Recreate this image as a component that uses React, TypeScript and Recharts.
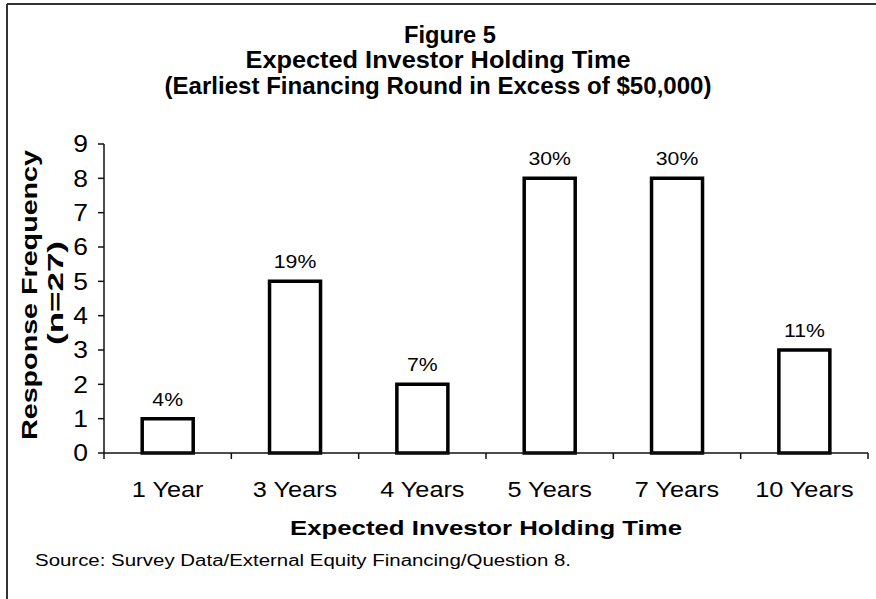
import React from "react";
import { BarChart, Bar, XAxis, YAxis, LabelList } from "recharts";

const categories = ["1 Year", "3 Years", "4 Years", "5 Years", "7 Years", "10 Years"];
const responses = [1, 5, 2, 8, 8, 3];
const shares = ["4%", "19%", "7%", "30%", "30%", "11%"];
const yTicks = [0, 1, 2, 3, 4, 5, 6, 7, 8, 9];

const data = categories.map((category, i) => ({
  category,
  responses: responses[i],
  share: shares[i],
}));

const W = 876;
const H = 599;
const Y_AXIS_W = 60;
const X_AXIS_H = 30;
const plotLeft = 104;
const axisY = 453;
const margin = { top: 144, right: 8, bottom: H - axisY - X_AXIS_H, left: plotLeft - Y_AXIS_W };
const plotW = W - plotLeft - margin.right;
const band = plotW / categories.length;
const font = '"Liberation Sans", Arial, Helvetica, sans-serif';
const SX = 1.15;

function XTick(props: any) {
  const { x, payload, index } = props;
  return (
    <g>
      <line x1={x - band / 2} x2={x - band / 2} y1={axisY} y2={axisY + 6} stroke="#111" strokeWidth={1.5} />
      {index === categories.length - 1 && (
        <line x1={x + band / 2} x2={x + band / 2} y1={axisY} y2={axisY + 6} stroke="#111" strokeWidth={1.5} />
      )}
      <text
        transform={`translate(${x},${axisY + 44}) scale(${SX},1)`}
        textAnchor="middle"
        fontSize={22}
        fontFamily={font}
        fill="#000"
      >
        {payload.value}
      </text>
    </g>
  );
}

function YTick(props: any) {
  const { x, y, payload } = props;
  return (
    <text
      transform={`translate(${x},${y}) scale(${SX},1)`}
      textAnchor="end"
      dy="0.36em"
      fontSize={23}
      fontFamily={font}
      fill="#000"
    >
      {payload.value}
    </text>
  );
}

function ShareLabel(props: any) {
  const { x, y, width, value } = props;
  return (
    <text
      transform={`translate(${x + width / 2},${y - 13}) scale(1.18,1)`}
      textAnchor="middle"
      fontSize={18}
      fontFamily={font}
      fill="#000"
    >
      {value}
    </text>
  );
}

export default function App() {
  return (
    <div style={{ position: "absolute", left: 0, top: 0, width: W, height: H, background: "#fff", overflow: "hidden" }}>
      <BarChart width={W} height={H} data={data} margin={margin} barCategoryGap="30%">
        <XAxis
          dataKey="category"
          height={X_AXIS_H}
          interval={0}
          tickLine={false}
          axisLine={{ stroke: "#111", strokeWidth: 1.5 }}
          tick={<XTick />}
        />
        <YAxis
          width={Y_AXIS_W}
          domain={[0, 9]}
          ticks={yTicks}
          interval={0}
          tickSize={6}
          tickMargin={10}
          axisLine={{ stroke: "#111", strokeWidth: 1.5 }}
          tickLine={{ stroke: "#111", strokeWidth: 1.5 }}
          tick={<YTick />}
        />
        <Bar dataKey="responses" fill="#fff" stroke="#000" strokeWidth={3.5} isAnimationActive={false}>
          <LabelList dataKey="share" content={<ShareLabel />} />
        </Bar>
      </BarChart>
      <svg
        width={W}
        height={H}
        style={{ position: "absolute", left: 0, top: 0, pointerEvents: "none" }}
        fontFamily={font}
      >
        <line x1={7} y1={4} x2={W} y2={4} stroke="#333" strokeWidth={2} />
        <line x1={7} y1={4} x2={7} y2={H} stroke="#333" strokeWidth={2} />
        <g fontWeight="bold" fontSize={24} textAnchor="middle" fill="#000">
          <text x={450} y={43} textLength={92} lengthAdjust="spacingAndGlyphs">Figure 5</text>
          <text x={438} y={68} textLength={385} lengthAdjust="spacingAndGlyphs">Expected Investor Holding Time</text>
          <text x={438} y={94} textLength={547} lengthAdjust="spacingAndGlyphs">
            (Earliest Financing Round in Excess of $50,000)
          </text>
        </g>
        <text
          x={486}
          y={535}
          textAnchor="middle"
          fontWeight="bold"
          fontSize={21}
          textLength={392}
          lengthAdjust="spacingAndGlyphs"
        >
          Expected Investor Holding Time
        </text>
        <text
          transform="translate(37,295) rotate(-90)"
          textAnchor="middle"
          fontWeight="bold"
          fontSize={22}
          textLength={290}
          lengthAdjust="spacingAndGlyphs"
        >
          Response Frequency
        </text>
        <text
          transform="translate(63,293) rotate(-90)"
          textAnchor="middle"
          fontWeight="bold"
          fontSize={22}
          textLength={104}
          lengthAdjust="spacingAndGlyphs"
        >
          (n=27)
        </text>
        <text x={35} y={566} fontSize={16} textLength={536} lengthAdjust="spacingAndGlyphs">
          Source: Survey Data/External Equity Financing/Question 8.
        </text>
      </svg>
    </div>
  );
}
